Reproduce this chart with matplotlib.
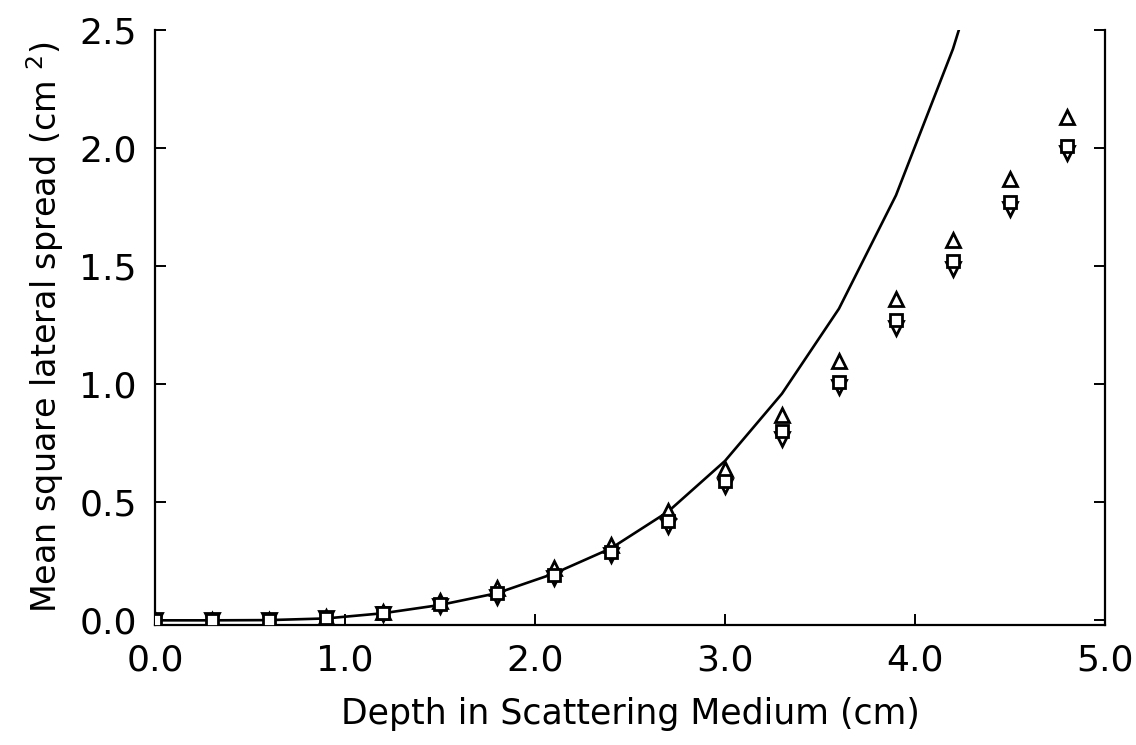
import matplotlib
matplotlib.use("Agg")
import matplotlib.pyplot as plt

depth = [0.0, 0.3, 0.6, 0.9, 1.2, 1.5, 1.8, 2.1, 2.4, 2.7, 3.0, 3.3, 3.6, 3.9, 4.2, 4.5, 4.8]
spread_up = [0.0, 0.0, 0.002, 0.012, 0.035, 0.08, 0.135, 0.22, 0.32, 0.465, 0.64, 0.87, 1.10, 1.36, 1.61, 1.87, 2.13]
spread_sq = [0.0, 0.0, 0.001, 0.010, 0.030, 0.068, 0.115, 0.19, 0.29, 0.42, 0.59, 0.80, 1.01, 1.27, 1.52, 1.77, 2.01]
spread_dn = [0.0, 0.0, 0.001, 0.008, 0.025, 0.06, 0.10, 0.18, 0.275, 0.40, 0.57, 0.77, 0.99, 1.24, 1.49, 1.74, 1.98]

curve_x = [0.0, 0.3, 0.6, 0.9, 1.2, 1.5, 1.8, 2.1, 2.4, 2.7, 3.0, 3.3, 3.6, 3.9, 4.2, 4.5]
curve_y = [0.0, 0.0, 0.001, 0.008, 0.030, 0.065, 0.115, 0.198, 0.305, 0.46, 0.675, 0.96, 1.32, 1.80, 2.42, 3.2]

plt.rcParams['font.family'] = ['DejaVu Sans']

fig = plt.figure(figsize=(11.36, 7.45), dpi=100)
ax = fig.add_axes([0.1364, 0.161, 0.8363, 0.7987])

ax.plot(curve_x, curve_y, color='black', lw=1.9, zorder=2)
mk = dict(ls='none', markerfacecolor='white', markeredgecolor='black', markeredgewidth=2.0, zorder=3)
ax.plot(depth, spread_up, marker='^', ms=10, **mk)
ax.plot(depth, spread_dn, marker='v', ms=10, **mk)
ax.plot(depth, spread_sq, marker='s', ms=8.5, **mk)

ax.set_xlim(0, 5)
ax.set_ylim(-0.02, 2.5)
ax.spines['top'].set_visible(False)
for s in ['left', 'right', 'bottom']:
    ax.spines[s].set_linewidth(1.6)

ax.set_xticks([0, 1, 2, 3, 4, 5])
ax.set_xticklabels(['0.0', '1.0', '2.0', '3.0', '4.0', '5.0'])
ax.set_yticks([0, 0.5, 1.0, 1.5, 2.0, 2.5])
ax.set_yticklabels(['0.0', '0.5', '1.0', '1.5', '2.0', '2.5'])
ax.tick_params(axis='both', direction='in', length=8, width=1.4, labelsize=26)
ax.tick_params(axis='x', pad=13)
ax.tick_params(axis='y', pad=13, right=True)

ax.set_xlabel('Depth in Scattering Medium (cm)', fontsize=25, labelpad=14)
ax.set_ylabel('Mean square lateral spread (cm $^{2}$)', fontsize=24, labelpad=10)

fig.savefig('out.png', dpi=100)
